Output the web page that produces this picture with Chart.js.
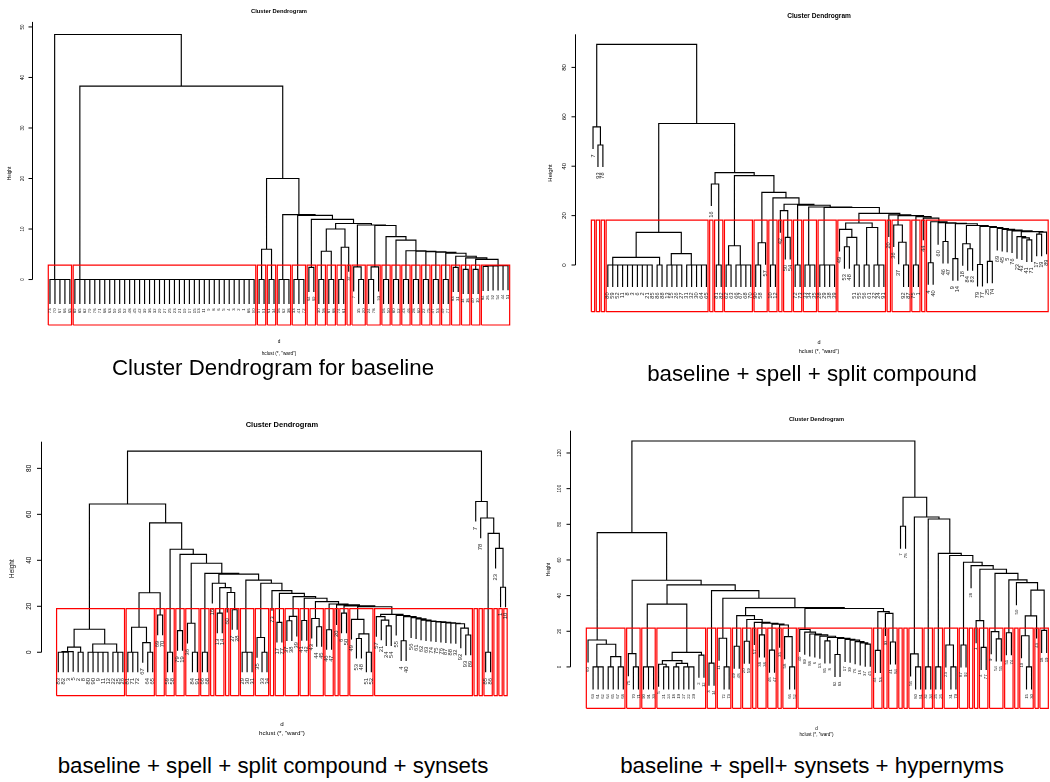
<!DOCTYPE html>
<html>
<head>
<meta charset="utf-8">
<script src="https://cdn.jsdelivr.net/npm/chart.js@4.4.1/dist/chart.umd.min.js"></script>
<style>
  body { margin: 0; background: #fff; }
  #page { position: relative; width: 1050px; height: 782px; overflow: hidden; }
  #page canvas { position: absolute; }
  .caption { position: absolute; transform: translate(-50%, -50%); font-family: 'Liberation Sans', Arial, sans-serif;
             font-size: 22.3px; line-height: 22.3px; white-space: nowrap; color: #000; }
</style>
</head>
<body>
<div id="page">
  <canvas id="baseline" width="525" height="362" style="left:0;top:0"></canvas>
  <canvas id="spell" width="525" height="362" style="left:525px;top:0"></canvas>
  <canvas id="synsets" width="525" height="350" style="left:0;top:395px"></canvas>
  <canvas id="hypernyms" width="525" height="350" style="left:525px;top:395px"></canvas>
  <div class="caption" style="left:273px;top:368px">Cluster Dendrogram for baseline</div>
  <div class="caption" style="left:812px;top:373.5px">baseline + spell + split compound</div>
  <div class="caption" style="left:273px;top:765.5px">baseline + spell + split compound + synsets</div>
  <div class="caption" style="left:812px;top:765.5px">baseline + spell+ synsets + hypernyms</div>
</div>
<script>
// leaf labels in plotted order, and the merge height between each pair of neighbouring leaves

/* baseline */
const baseLabels = [73, 70, 67, 66, 65,
  89, 85, 82, 79, 76, 71, 68, 63, 59, 55, 52, 48, 45, 42, 39, 36, 32, 29, 27, 25, 23, 21, 19, 17, 15, 13, 11, 9, 8, 6, 5, 4, 3, 2, 1, 86, 90,
  57, 91, 61, 34, 56, 62, 38, 33, 41, 72, 64, 69, 30, 58, 87, 88, 74, 81, 37, 7, 35, 20, 24, 78, 93, 16, 50, 80, 12, 43, 46, 28, 60, 22, 75,
  47, 53, 49, 77, 83, 31, 14, 18, 40, 10, 84, 26, 92, 54, 44, 51];
const baseGaps = [
  0, 0, 0, 0, 48.5,
  0, 0, 0, 0, 0, 0, 0, 0, 0, 0, 0, 0, 0, 0, 0, 0, 0, 0,
  0, 0, 0, 0, 0, 0, 0, 0, 0, 0, 0, 0, 0, 0, 0, 0, 0, 0, 38.3,
  0, 6.0, 0, 20.0, 0, 0, 12.85, 0, 0, 12.7, 2.4, 11.9, 0, 5.6, 0, 10.0, 0, 6.4, 11.1,
  2.5, 0, 10.8, 0, 2.5, 10.7, 0, 8.5, 0, 7.8, 0, 5.7, 0, 5.6, 0, 5.5, 0, 5.4, 0, 5.2,
  2.4, 4.6, 2.0, 4.3, 2.0, 4.0, 2.6, 2.7, 2.7, 2.75, 2.75];
const baseTicks = [0, 10, 20, 30, 40, 50];
const baseCut = 2.85;

/* baseline + spell + split compound */
const spellLabels = [7, 93, 78,
  80, 59, 52, 11, 8, 3, 6, 2, 21, 85, 86, 88, 13, 15, 26, 27, 31, 32, 30, 64, 65,
  16, 81, 82, 62, 63, 66, 67, 68, 70, 90, 58, 57, 10, 12, 42, 50, 54, 72, 73, 33, 34, 35, 28, 29, 38, 39,
  49, 53, 48, 51, 55, 56, 61, 22, 24, 91, 20, 36, 37, 92, 87,
  75, 1, 44, 4, 40, 60, 46, 47, 9, 14, 18, 84, 83, 79, 77, 25, 74, 69, 45, 5, 76, 23, 43, 41, 71, 17, 19, 89];
const spellGaps = [55.9, 48.6, 89.3,
  0, 0, 0, 0, 0, 0, 0, 0, 0, 3.1, 0, 13.2, 0, 0, 0, 4.6, 0, 0, 0, 0,
  57.3, 32.8, 0, 37.4,
  0, 7.8, 0, 0, 0, 36.2,
  0, 9.0, 29.4, 0, 27.2, 22.0, 11.2, 24.6,
  0, 24.2, 0, 0, 23.5, 0, 0, 0, 23.3,
  14.4, 7.4, 11.2, 0, 17.0, 0, 15.2, 0, 0, 20.9,
  20.3, 16.2, 9.2, 0, 20.0, 0, 19.6, 19.0,
  0.9, 17.5, 17.1, 9.5, 16.9, 2.6, 16.7, 8.6, 6.6, 16.0, 0.2, 15.6, 1.5, 15.2,
  14.8, 14.4, 14.1, 13.8, 11.5, 11.0, 10.2, 13.5, 12.5, 13.3];
const spellTicks = [0, 20, 40, 60, 80];
const spellCut = 18.2;

/* baseline + spell + split compound + synsets */
const synLabels = [83, 82, 3, 5, 2, 8, 80, 90, 9, 11, 12, 22, 25, 26,
  81, 71, 72, 67, 64, 65, 69, 70, 59, 58, 79, 19, 36, 84, 91, 66, 68, 16, 13, 14, 60, 27, 28,
  29, 30, 31, 35, 33, 34, 73, 17, 77, 37, 38, 39, 41, 42, 43, 44, 45, 46, 47, 20, 6, 50,
  49, 53, 48, 51, 52,
  57, 21, 24, 54, 55, 4, 40, 56, 61, 62, 63, 74, 75, 76, 87, 88, 32, 92, 93, 89,
  7, 78, 85, 86, 23, 1, 10];
const synGaps = [0, 0, 0.3, 2.2, 0, 10.0, 0, 0, 0, 0, 3.6, 0, 0,
  64.5,
  0, 0, 10.9, 4.2, 0, 25.9, 16.2,
  56.3, 0, 44.8, 9.4, 42.6, 12.6, 0, 38.7, 0, 34.3,
  30.0, 17.0, 28.1, 26.0, 18.5, 34.0,
  0, 0, 31.4, 6.4, 0, 30.0, 26.8, 13.0, 25.6,
  13.7, 15.6, 24.2, 13.8, 23.5, 14.7, 11.1, 22.0, 9.8, 21.0, 20.6, 17.0, 20.2,
  14.3, 6.0, 8.0, 0, 19.8,
  15.5, 14.0, 11.5, 16.5, 16.0, 5.0, 15.5, 15.0, 14.5, 14.0, 13.6, 13.4, 13.2, 13.0, 12.8, 12.6, 12.4, 10.5, 7.5,
  87.5, 65.6, 58.4, 0, 51.7, 45.2, 28.3];
const synTicks = [0, 20, 40, 60, 80];
const synCut = 19.0;

/* baseline + spell + synsets + hypernyms */
const hypLabels = [60, 63, 61, 62, 64, 65, 67, 68, 75, 70, 71, 90, 91, 33,
  5, 21, 24, 18, 19, 27, 22, 29, 2, 12, 3, 14, 11, 72, 73,
  49, 48, 20, 59, 57, 38, 36, 46, 47, 35, 58, 66, 52,
  40, 89, 88, 6, 13, 85, 8, 82, 83, 17, 39, 76, 16, 37, 45, 44, 53, 93, 41, 84,
  7, 78, 56, 80, 81, 32, 34, 25, 26, 23, 31, 79, 87, 92, 28, 1, 4, 77, 9, 54, 55, 51, 74, 50, 10, 15, 30, 43, 18, 19];
const hypGaps = [15.1, 0, 0, 12.7, 0, 5.8, 0,
  75.3, 7.5, 0, 48.6,
  0, 0, 35.2,
  1.5, 0, 3.5, 0, 2.0, 0, 0, 8.2, 6.6,
  46.0, 2.1, 42.8, 16.1, 0, 38.5,
  11.6, 28.8, 14.4, 26.6, 25.0, 18.0, 24.5, 9.4, 24.0, 23.5, 17.0, 0,
  33.3,
  21.0, 19.5, 18.5, 18.0, 17.2, 14.6, 16.5, 7.0, 16.0, 15.5, 15.0, 14.2, 13.5, 12.8,
  32.8, 9.3, 31.0, 30.0, 14.0,
  126.7, 78.9, 95.2, 7.3, 0, 84.1, 0, 83.0, 0, 63.7, 12.3, 0, 62.5, 12.3, 58.7, 56.8,
  26.0, 11.0, 54.8, 19.8, 15.7, 52.5, 19.2, 48.8, 47.3, 17.5, 0, 28.6, 43.1, 20.5];
const hypTicks = [0, 20, 40, 60, 80, 100, 120];
const hypCut = 21.8;

const FONT = "'Liberation Sans', Arial, sans-serif";
Chart.defaults.font.family = FONT;

// split the leaf range at the highest neighbour gap (leftmost first), like plot.hclust lays it out
function buildDendrogram(gaps, hang) {
  const segs = [];
  const leafEnd = [];
  function build(lo, hi) {
    if (lo === hi) return { x: lo, h: 0, leaf: true };
    let k = lo;
    for (let i = lo + 1; i < hi; i++) if (gaps[i] > gaps[k]) k = i;
    const a = build(lo, k), b = build(k + 1, hi);
    const h = gaps[k];
    const ya = a.leaf ? h - hang : a.h;
    const yb = b.leaf ? h - hang : b.h;
    if (a.leaf) leafEnd[a.x] = ya;
    if (b.leaf) leafEnd[b.x] = yb;
    segs.push({ x: a.x, y: ya }, { x: a.x, y: h }, { x: b.x, y: h }, { x: b.x, y: yb }, { x: null, y: null });
    return { x: (a.x + b.x) / 2, h: h, leaf: false };
  }
  build(0, gaps.length);
  return { segs, leafEnd };
}

// rect.hclust style boxes round every run of leaves joined below the cut
function clusterBoxes(gaps, cut, bottom) {
  const pts = [];
  let start = 0;
  for (let i = 0; i <= gaps.length; i++) {
    if (i === gaps.length || gaps[i] >= cut) {
      const l = start - 0.34, r = i + 0.33;
      pts.push({ x: l, y: bottom }, { x: l, y: cut }, { x: r, y: cut }, { x: r, y: bottom }, { x: l, y: bottom }, { x: null, y: null });
      start = i + 1;
    }
  }
  return pts;
}

function axisPlugin(p, tree) {
  const b = p.box;
  return {
    id: 'dendroAxis',
    afterDraw(chart) {
      const { ctx, chartArea } = chart;
      const xs = chart.scales.x, ys = chart.scales.y;
      const ax = Math.round(b.axisX) + 0.5;
      ctx.save();
      ctx.strokeStyle = '#000';
      ctx.lineWidth = 1;
      ctx.beginPath();
      ctx.moveTo(ax, ys.getPixelForValue(0));
      ctx.lineTo(ax, chartArea.top);
      p.ticks.forEach(v => {
        const py = ys.getPixelForValue(v);
        ctx.moveTo(ax - b.tickLen, py);
        ctx.lineTo(ax, py);
      });
      ctx.stroke();

      ctx.fillStyle = '#000';
      ctx.textAlign = 'center';
      ctx.textBaseline = 'middle';
      ctx.font = b.tickFont + 'px ' + FONT;
      p.ticks.forEach(v => {
        ctx.save();
        ctx.translate(b.tickLabelX, ys.getPixelForValue(v));
        ctx.rotate(-Math.PI / 2);
        ctx.fillText(String(v), 0, 0);
        ctx.restore();
      });
      ctx.font = b.heightFont + 'px ' + FONT;
      ctx.save();
      ctx.translate(b.heightX, (chartArea.top + chartArea.bottom) / 2);
      ctx.rotate(-Math.PI / 2);
      ctx.fillText('Height', 0, 0);
      ctx.restore();

      // leaf labels hang below each leaf end, reading upwards
      ctx.fillStyle = '#222';
      ctx.font = b.labelFont + 'px ' + FONT;
      ctx.textAlign = 'right';
      const off = 0.7 * b.labelFont + 1.5;
      p.labels.forEach((lab, i) => {
        ctx.save();
        ctx.translate(xs.getPixelForValue(i), ys.getPixelForValue(tree.leafEnd[i]) + off);
        ctx.rotate(-Math.PI / 2);
        ctx.fillText(String(lab), 0, 0);
        ctx.restore();
      });
      ctx.restore();
    }
  };
}

const panels = [
  { id: 'baseline', labels: baseLabels, gaps: baseGaps, ticks: baseTicks, cut: baseCut,
    box: { padLeft: 45, padRight: 12, title: [5.8, 8.6, 7.5], sub: [4.7, 11.5, 11.25, 2.75],
           yMin: -9, yMax: 51, xMax: 93, axisX: 32, tickLen: 4, tickLabelX: 22.7, tickFont: 4.6,
           heightX: 10, heightFont: 4.6, labelFont: 4.2 } },
  { id: 'spell', labels: spellLabels, gaps: spellGaps, ticks: spellTicks, cut: spellCut,
    box: { padLeft: 63.1, padRight: 0, title: [6.6, 12.7, 15], sub: [5.5, 9.4, 25.9, 5.6],
           yMin: -18.9, yMax: 93.4, xMax: 92.7, axisX: 50, tickLen: 4, tickLabelX: 39.3, tickFont: 6.2,
           heightX: 25, heightFont: 6, labelFont: 5.6 } },
  { id: 'synsets', labels: synLabels, gaps: synGaps, ticks: synTicks, cut: synCut,
    box: { padLeft: 53.3, padRight: 14.5, title: [7.5, 26.25, 12.95], sub: [6.2, 9, 24.1, 7.2],
           yMin: -18.9, yMax: 91.6, xMax: 91, axisX: 40.7, tickLen: 4.5, tickLabelX: 29.3, tickFont: 6.4,
           heightX: 12.7, heightFont: 6.4, labelFont: 5.8 } },
  { id: 'hypernyms', labels: hypLabels, gaps: hypGaps, ticks: hypTicks, cut: hypCut,
    box: { padLeft: 58, padRight: 0, title: [5.7, 21.15, 8.85], sub: [4.6, 5.3, 18.05, 8.05],
           yMin: -23.2, yMax: 132.5, xMax: 91.66, axisX: 45, tickLen: 4, tickLabelX: 35, tickFont: 4.6,
           heightX: 24, heightFont: 4.6, labelFont: 4.3 } }
];

panels.forEach(p => {
  const b = p.box;
  const hang = 0.1 * Math.max(...p.gaps);
  const tree = buildDendrogram(p.gaps, hang);
  const boxes = clusterBoxes(p.gaps, p.cut, b.yMin);

  new Chart(document.getElementById(p.id), {
    type: 'scatter',
    data: {
      datasets: [
        { data: boxes, showLine: true, borderColor: '#ff0000', borderWidth: 1.2, pointRadius: 0, clip: false, order: 0 },
        { data: tree.segs, showLine: true, borderColor: '#000', borderWidth: 1.15, pointRadius: 0, clip: false, order: 1 }
      ]
    },
    options: {
      responsive: false,
      animation: false,
      events: [],
      layout: { padding: { left: b.padLeft, right: b.padRight, top: 0, bottom: 0 } },
      scales: {
        x: { type: 'linear', display: false, min: -1, max: b.xMax },
        y: { type: 'linear', display: false, min: b.yMin, max: b.yMax }
      },
      plugins: {
        legend: { display: false },
        tooltip: { enabled: false },
        title: {
          display: true, text: 'Cluster Dendrogram', fullSize: false, color: '#000',
          font: { size: b.title[0], weight: 'bold', lineHeight: 1 },
          padding: { top: b.title[1], bottom: b.title[2] }
        },
        subtitle: {
          display: true, position: 'bottom', fullSize: false, color: '#000',
          text: ['d', 'hclust (*, "ward")'],
          font: { size: b.sub[0], lineHeight: b.sub[1] / b.sub[0] },
          padding: { top: b.sub[2], bottom: b.sub[3] }
        }
      }
    },
    plugins: [axisPlugin(p, tree)]
  });
});
</script>
</body>
</html>
